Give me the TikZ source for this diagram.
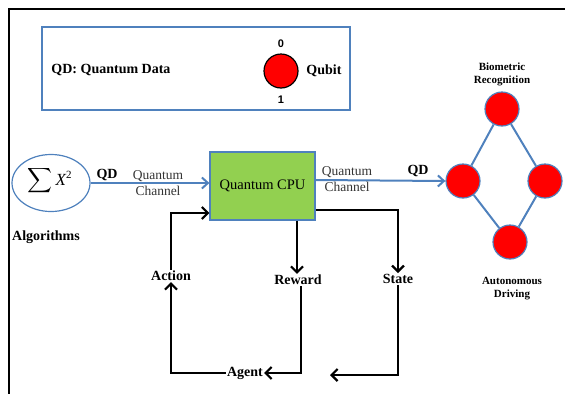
\documentclass[tikz,border=0pt]{standalone}
\usepackage{amsmath}
\usepackage{fontspec}
\setmainfont{Liberation Serif}
\newfontfamily\lsans{Liberation Sans}
\usetikzlibrary{arrows.meta,shapes.geometric}
\definecolor{ofblue}{HTML}{4F81BD}
\definecolor{ofgreen}{HTML}{92D050}
\tikzset{
  blk/.style={draw=black,line width=2.2pt,-{Straight Barb[length=6pt,width=12pt,line width=2.2pt]}},
  blu/.style={draw=ofblue,line width=2pt,-{Straight Barb[length=6pt,width=11pt,line width=2pt]}},
  qubit/.style={circle,draw=ofblue,line width=1.2pt,fill=red,minimum size=34pt,inner sep=0pt},
  lbl/.style={font=\fontsize{14}{16}\selectfont\bfseries,inner sep=1pt},
  chan/.style={font=\fontsize{13.5}{15}\selectfont,inner sep=0pt,text=black!80,align=center},
  small/.style={font=\fontsize{11}{13}\selectfont\bfseries,align=center,inner sep=0pt},
}
\begin{document}
\begin{tikzpicture}[x=1pt,y=-1pt]
\useasboundingbox (0,0) rectangle (565,394);
% outer frame
\draw[line width=2pt] (565,8.5) -- (9,8.5) -- (9,394);
% legend
\node[draw=ofblue,line width=1.2pt,minimum width=308pt,minimum height=83pt,inner sep=0pt] (legend) at (196,68.5) {};
\node[lbl] (qdlab) at (111,70) {QD: Quantum Data};
\node[circle,draw=black,line width=1.2pt,fill=red,minimum size=34pt,inner sep=0pt] (qb) at (281,71) {};
\node[font=\lsans\fontsize{11}{13}\selectfont\bfseries,inner sep=0pt] (q0) at (281,44) {0};
\node[font=\lsans\fontsize{11}{13}\selectfont\bfseries,inner sep=0pt] (q1) at (281,100) {1};
\node[lbl] (qbt) at (324,71) {Qubit};
% algorithms
\node[ellipse,draw=ofblue,line width=1.2pt,minimum width=78pt,minimum height=57pt,inner sep=0pt] (alg) at (51,183) {};
\node[font=\fontsize{17}{19}\selectfont,inner sep=0pt] (sum) at (50,181) {$\displaystyle\sum\textit{X}^{\textup{\fontsize{11}{11}\selectfont 2}}$};
\node[lbl] (algl) at (46,237) {Algorithms};
% CPU
\node[draw=ofblue,line width=1.2pt,fill=ofgreen,minimum width=105pt,minimum height=68pt,inner sep=0pt,font=\fontsize{14.5}{16}\selectfont] (cpu) at (262.5,186) {Quantum CPU};
% left channel
\draw[blu] (alg.east) -- (alg.east -| cpu.west);
\node[lbl] (qd1) at (107,175) {QD};
\node[chan] (ch1) at (158,183.5) {Quantum\\[1pt]Channel};
% network
\node[qubit] (nt) at (502,109) {};
\node[qubit] (nl) at (463,181) {};
\node[qubit] (nr) at (545,181) {};
\node[qubit] (nb) at (510,242) {};
\draw[ofblue,line width=2pt] (nt) -- (nl) (nt) -- (nr) (nl) -- (nb) (nr) -- (nb);
\node[small] (bio) at (502,74) {Biometric\\Recognition};
\node[small] (auto) at (512,289) {Autonomous\\Driving};
% right channel
\coordinate (cr) at (cpu.east |- 0,180);
\draw[blu] (cr) -- (nl.west);
\node[chan] (ch2) at (347,179) {Quantum\\[1pt]Channel};
\node[lbl] (qd2) at (418,171) {QD};
% feedback
\node[lbl] (act) at (171,276) {Action};
\node[lbl] (rew) at (298,280) {Reward};
\node[lbl] (st) at (398,279) {State};
\node[lbl] (ag) at (245,373) {Agent};
\coordinate (ain) at (cpu.west |- 0,213);
\draw[blk] (act.north) |- (ain);
\coordinate (cb) at (cpu.south -| 297,0);
\draw[blk] (cb) -- (rew.north -| cb);
\coordinate (cs) at (cpu.east |- 0,210);
\draw[blk] (cs) -| (st.north);
\draw[blk] ([xshift=3pt]rew.south) |- (ag.east);
\draw[blk] (ag.west) -| (act.south);
\coordinate (send) at (330,375);
\draw[blk] (st.south) |- (send);
\end{tikzpicture}
\end{document}
